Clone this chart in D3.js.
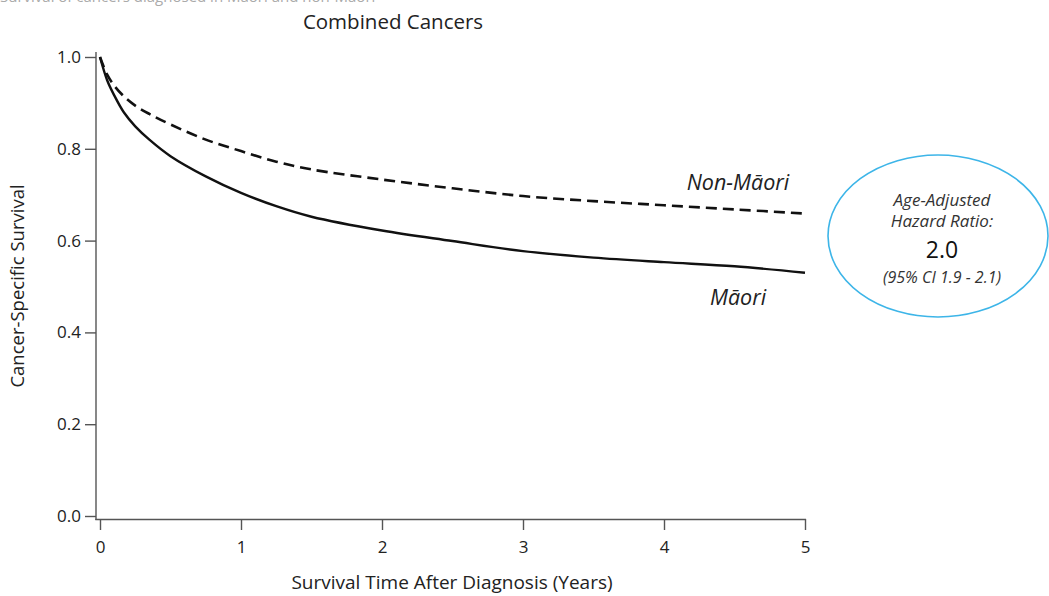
<!DOCTYPE html>
<html>
<head>
<meta charset="utf-8">
<script src="https://cdn.jsdelivr.net/npm/d3@7"></script>
<style>
  html, body { margin: 0; padding: 0; background: #fff; }
  svg { display: block; }
  text { font-family: "Open Sans", Lato, sans-serif; }
</style>
</head>
<body>
<svg id="chart" width="1049" height="596"></svg>
<script>
// ---- data ----
const years = [0, 0.05, 0.1, 0.17, 0.25, 0.35, 0.5, 0.75, 1.0, 1.25, 1.5, 2.0, 2.5, 3.0, 3.5, 4.0, 4.5, 5.0];
const nonMaori = [1.0, 0.962, 0.938, 0.914, 0.894, 0.876, 0.853, 0.82, 0.795, 0.772, 0.755, 0.733, 0.714, 0.697, 0.686, 0.677, 0.668, 0.659];
const maori = [1.0, 0.95, 0.917, 0.879, 0.849, 0.82, 0.784, 0.74, 0.704, 0.675, 0.652, 0.622, 0.599, 0.577, 0.563, 0.553, 0.544, 0.530];
const xTicks = [0, 1, 2, 3, 4, 5];
const yTicks = [0.0, 0.2, 0.4, 0.6, 0.8, 1.0];
const seriesNames = ["Non-Māori", "Māori"];
const hrLines = ["Age-Adjusted", "Hazard Ratio:", "2.0", "(95% CI 1.9 - 2.1)"];

const svg = d3.select("#chart");
const x = d3.scaleLinear().domain([0, 5]).range([100, 805]);
const y = d3.scaleLinear().domain([0, 1]).range([516, 57]);
const axisColor = "#555";
const textColor = "#222";

// cut-off heading at top (only its lower edge is visible in the reference)
svg.append("text").attr("x", 0).attr("y", 2).attr("font-size", 15).attr("fill", "#aaa")
  .text("Survival of cancers diagnosed in Māori and non-Māori");

// title
svg.append("text").attr("x", 393).attr("y", 29).attr("text-anchor", "middle")
  .attr("font-size", 20.5).attr("fill", textColor).text("Combined Cancers");

// y axis
const gy = svg.append("g").attr("transform", "translate(96,0)")
  .call(d3.axisLeft(y).tickValues(yTicks).tickSize(11).tickPadding(4).tickFormat(d3.format(".1f")));
gy.select(".domain").remove();
gy.selectAll(".tick line").attr("stroke", axisColor).attr("stroke-width", 1.4);
gy.selectAll(".tick text").style("font-size", "17px").attr("fill", textColor)
  .style("font-family", "'Open Sans', sans-serif");
svg.append("line").attr("x1", 96).attr("x2", 96).attr("y1", 52).attr("y2", 520)
  .attr("stroke", axisColor).attr("stroke-width", 1.4);

// x axis
const gx = svg.append("g").attr("transform", "translate(0,519)")
  .call(d3.axisBottom(x).tickValues(xTicks).tickSize(11).tickPadding(11).tickFormat(d3.format("d")));
gx.select(".domain").remove();
gx.selectAll(".tick line").attr("stroke", axisColor).attr("stroke-width", 1.4);
gx.selectAll(".tick text").style("font-size", "17px").attr("fill", textColor)
  .style("font-family", "'Open Sans', sans-serif");
svg.append("line").attr("x1", 95.3).attr("x2", 806).attr("y1", 519.5).attr("y2", 519.5)
  .attr("stroke", axisColor).attr("stroke-width", 1.4);

// axis labels
svg.append("text").attr("x", 452).attr("y", 589).attr("text-anchor", "middle")
  .attr("font-size", 19).attr("fill", textColor).text("Survival Time After Diagnosis (Years)");
svg.append("text").attr("transform", "translate(24,286) rotate(-90)").attr("text-anchor", "middle")
  .attr("font-size", 18.5).attr("fill", textColor).text("Cancer-Specific Survival");

// curves
const line = d3.line().x(d => x(d[0])).y(d => y(d[1])).curve(d3.curveCatmullRom.alpha(0.5));
svg.append("path").datum(years.map((t, i) => [t, nonMaori[i]]))
  .attr("d", line).attr("fill", "none").attr("stroke", "#111").attr("stroke-width", 2.6)
  .attr("stroke-dasharray", "11,6");
svg.append("path").datum(years.map((t, i) => [t, maori[i]]))
  .attr("d", line).attr("fill", "none").attr("stroke", "#111").attr("stroke-width", 2.4);

// series labels
svg.append("text").attr("x", 738).attr("y", 190).attr("text-anchor", "middle")
  .attr("font-size", 21.5).attr("font-style", "italic").attr("fill", textColor).text(seriesNames[0]);
svg.append("text").attr("x", 738).attr("y", 305).attr("text-anchor", "middle")
  .attr("font-size", 21.5).attr("font-style", "italic").attr("fill", textColor).text(seriesNames[1]);

// hazard ratio ellipse
svg.append("ellipse").attr("cx", 938).attr("cy", 236).attr("rx", 110).attr("ry", 81)
  .attr("fill", "none").attr("stroke", "#3db5e8").attr("stroke-width", 1.6);
const cx = 942;
svg.append("text").attr("x", cx).attr("y", 206).attr("text-anchor", "middle")
  .attr("font-size", 17).attr("font-style", "italic").attr("fill", "#333").text(hrLines[0]);
svg.append("text").attr("x", cx).attr("y", 227).attr("text-anchor", "middle")
  .attr("font-size", 17).attr("font-style", "italic").attr("fill", "#333").text(hrLines[1]);
svg.append("text").attr("x", cx).attr("y", 258).attr("text-anchor", "middle")
  .attr("font-size", 23).attr("fill", "#111").text(hrLines[2]);
svg.append("text").attr("x", cx).attr("y", 283).attr("text-anchor", "middle")
  .attr("font-size", 16).attr("font-style", "italic").attr("fill", "#333").text(hrLines[3]);
</script>
</body>
</html>
